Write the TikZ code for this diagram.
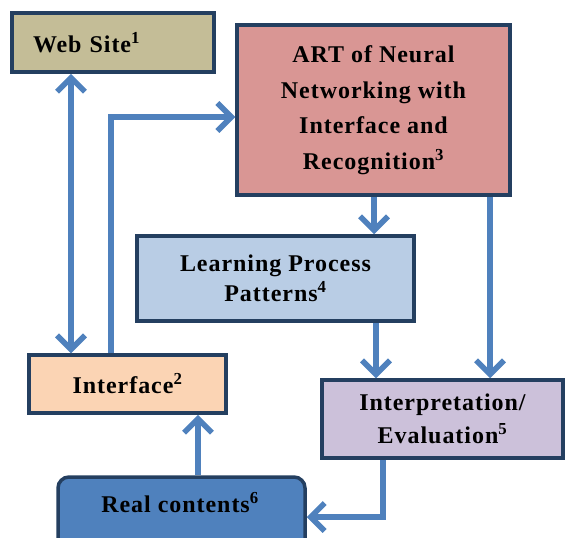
\documentclass[tikz,border=0pt]{standalone}
\usepackage{fontspec}
\setmainfont{Liberation Serif}[LetterSpace=4]
\usetikzlibrary{arrows.meta,fit}
\definecolor{navy}{HTML}{243F60}
\definecolor{khaki}{HTML}{C4BD97}
\definecolor{artred}{HTML}{D99694}
\definecolor{learnblue}{HTML}{B9CDE5}
\definecolor{ifacepeach}{HTML}{FBD4B4}
\definecolor{interplilac}{HTML}{CCC1DA}
\definecolor{realblue}{HTML}{4F81BD}
\definecolor{linkblue}{HTML}{4F81BD}
\begin{document}
\begin{tikzpicture}[x=1pt,y=-1pt,
  box/.style={draw=navy, line width=3.5pt, inner sep=0pt, align=center, text=black,
    font=\fontsize{24}{34}\selectfont\bfseries},
  lbl/.style={inner sep=0pt, align=center, text=black, font=\fontsize{24}{34}\selectfont\bfseries},
  barb/.tip={Straight Barb[length=14pt,width=28pt]},
  link/.style={draw=linkblue, line width=5.5pt, -barb},
  biglink/.style={draw=linkblue, line width=5.5pt, barb-barb}]
\useasboundingbox (0,0) rectangle (566,538);
\clip (0,0) rectangle (566,538);

\node[box, fill=khaki, minimum width=202pt, minimum height=59pt, text width=160pt,
  inner xsep=21pt, align=left] (ws) at (113,42.5) {Web Site\textsuperscript{1}};
\node[box, fill=artred, minimum width=273pt, minimum height=170pt,
  font=\fontsize{24}{35.5}\selectfont\bfseries] (art) at (373.5,110)
  {ART of Neural\\Networking with\\Interface and\\Recognition\textsuperscript{3}};
\node[box, fill=learnblue, minimum width=277pt, minimum height=85pt,
  font=\fontsize{24}{30}\selectfont\bfseries] (learn) at (275.5,278.5)
  {Learning Process\\Patterns\textsuperscript{4}};
\node[box, fill=ifacepeach, minimum width=197pt, minimum height=58pt] (iface) at (127.5,384)
  {Interface\textsuperscript{2}};
\node[box, fill=interplilac, minimum width=241pt, minimum height=78pt,
  font=\fontsize{24}{33}\selectfont\bfseries] (interp) at (442.5,419)
  {Interpretation/\\Evaluation\textsuperscript{5}};
\coordinate (rtl) at (58,477);
\coordinate (rbr) at (305,560);
\node[draw=navy, line width=3.5pt, fill=realblue, rounded corners=11pt, inner sep=0pt,
  fit=(rtl)(rbr)] (real) {};
\node[lbl] (realtext) at (180,503) {Real contents\textsuperscript{6}};

\coordinate (xa) at (71,0);
\draw[biglink] (ws.south -| xa) -- (iface.north -| xa);
\coordinate (xb) at (111,117);
\draw[link] (iface.north -| xb) |- (art.west |- xb);
\coordinate (xc) at (374,0);
\draw[link] (art.south -| xc) -- (learn.north -| xc);
\coordinate (xd) at (490,0);
\draw[link] (art.south -| xd) -- (interp.north -| xd);
\coordinate (xe) at (376,0);
\draw[link] (learn.south -| xe) -- (interp.north -| xe);
\coordinate (xf) at (198,0);
\draw[link] (real.north -| xf) -- (iface.south -| xf);
\coordinate (xg) at (383,517);
\draw[link] (interp.south -| xg) |- (real.east |- xg);
\end{tikzpicture}
\end{document}
